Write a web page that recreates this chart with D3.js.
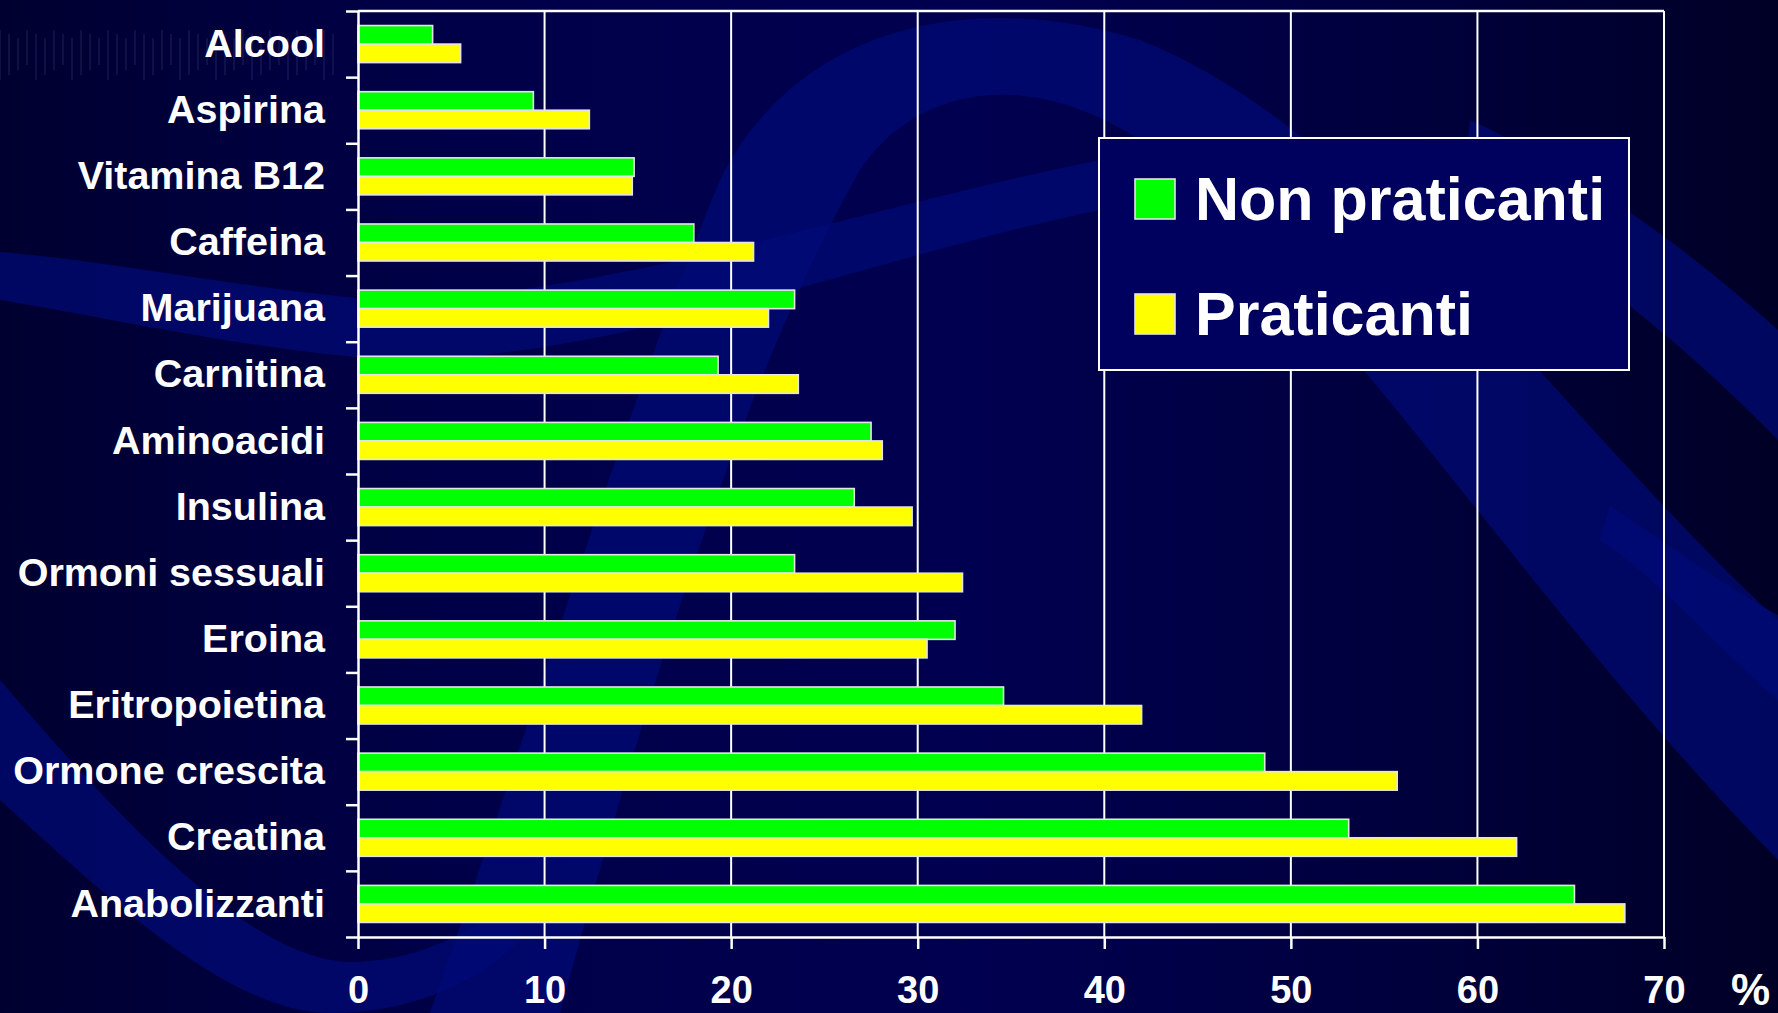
<!DOCTYPE html>
<html>
<head>
<meta charset="utf-8">
<script src="https://cdn.jsdelivr.net/npm/d3@7"></script>
<style>
  html, body { margin: 0; padding: 0; background: #000040; overflow: hidden; }
  svg { display: block; }
  text { font-family: "Liberation Sans", Arial, sans-serif; font-weight: bold; fill: #ffffff; }
</style>
</head>
<body>
<svg id="chart" width="1778" height="1013"></svg>
<script>
// ---- data ----
const categories = ["Alcool", "Aspirina", "Vitamina B12", "Caffeina", "Marijuana", "Carnitina",
  "Aminoacidi", "Insulina", "Ormoni sessuali", "Eroina", "Eritropoietina",
  "Ormone crescita", "Creatina", "Anabolizzanti"];
const nonPraticanti = [4.0, 9.4, 14.8, 18.0, 23.4, 19.3, 27.5, 26.6, 23.4, 32.0, 34.6, 48.6, 53.1, 65.2];
const praticanti   = [5.5, 12.4, 14.7, 21.2, 22.0, 23.6, 28.1, 29.7, 32.4, 30.5, 42.0, 55.7, 62.1, 67.9];
const seriesNames = ["Non praticanti", "Praticanti"];
const seriesColors = ["#00ff00", "#ffff00"];
const xTicks = [0, 10, 20, 30, 40, 50, 60, 70];
const unitLabel = "%";

(function () {
// ---- layout ----
const W = 1778, H = 1013;
const mLeft = 358, mRight = 1664, mTop = 11, mBottom = 937;
const svg = d3.select("#chart");

// background
const defs = svg.append("defs");
const bg = defs.append("linearGradient").attr("id", "bg").attr("x1", 0).attr("x2", 1).attr("y1", 0).attr("y2", 0);
[[0, "#000030"], [0.25, "#000048"], [0.55, "#000050"], [0.8, "#00003c"], [1, "#000026"]]
  .forEach(([o, c]) => bg.append("stop").attr("offset", o).attr("stop-color", c));
svg.append("rect").attr("width", W).attr("height", H).attr("fill", "url(#bg)");

const swooshColor = "#000a78";
const swooshes = [
  "M430,1013 C520,760 620,420 720,180 C800,20 980,-10 1140,40 C1370,130 1560,420 1778,620 L1778,860 C1560,640 1380,360 1180,170 C1050,60 920,80 860,170 C740,380 640,720 560,1013 Z",
  "M0,252 C120,262 250,290 380,300 C600,300 850,210 1100,160 L1100,210 C860,260 620,360 390,360 C250,350 120,320 0,300 Z",
  "M0,680 C120,820 250,960 350,962 C420,962 470,930 520,900 L520,940 C470,990 400,1013 330,1013 C230,1013 110,900 0,800 Z",
  "M1470,120 C1580,170 1690,250 1778,330 L1778,440 C1680,340 1570,250 1460,200 Z",
  "M1610,506 C1670,545 1730,590 1778,615 L1778,700 C1720,650 1660,580 1600,540 Z"
];
svg.append("g").selectAll("path").data(swooshes).join("path")
  .attr("d", d => d).attr("fill", swooshColor).attr("opacity", 0.7);

const texG = svg.append("g").attr("opacity", 0.25);
d3.range(0, 340, 9).forEach((xx, i) => {
  texG.append("line").attr("x1", xx).attr("x2", xx)
    .attr("y1", 30 + (i % 3) * 4).attr("y2", 80 - (i % 4) * 5)
    .attr("stroke", "#8080c0").attr("stroke-width", 1);
});

// ---- scales ----
const x = d3.scaleLinear().domain([0, 70]).range([mLeft, mRight]);
const y = d3.scaleBand().domain(categories).range([mTop, mBottom]).paddingInner(0.44).paddingOuter(0.22);
const ySub = d3.scaleBand().domain(seriesNames).range([0, y.bandwidth()]);
const yBound = d3.scaleLinear().domain([0, categories.length]).range([mTop, mBottom]);

svg.append("g").selectAll("line").data(xTicks.filter(d => d > 0)).join("line")
  .attr("x1", d => x(d)).attr("x2", d => x(d)).attr("y1", mTop).attr("y2", mBottom)
  .attr("stroke", "#ffffff").attr("stroke-width", 2);
svg.append("line").attr("x1", x(0)).attr("x2", x(70)).attr("y1", mTop).attr("y2", mTop)
  .attr("stroke", "#ffffff").attr("stroke-width", 2.5);

// bars
const rows = categories.map((c, i) => ({ cat: c, vals: [nonPraticanti[i], praticanti[i]] }));
const gRow = svg.append("g").selectAll("g").data(rows).join("g")
  .attr("transform", d => `translate(0,${y(d.cat)})`);
gRow.selectAll("rect").data(d => d.vals.map((v, j) => ({ v, s: seriesNames[j], c: seriesColors[j] })))
  .join("rect")
  .attr("x", x(0)).attr("y", d => ySub(d.s))
  .attr("width", d => x(d.v) - x(0)).attr("height", ySub.bandwidth())
  .attr("fill", d => d.c).attr("stroke", "#e4e4e4").attr("stroke-width", 1.6);

const yTickAxis = svg.append("g").attr("transform", `translate(${mLeft},0)`)
  .call(d3.axisLeft(yBound).ticks(categories.length).tickSize(12).tickSizeOuter(0).tickFormat(""));
yTickAxis.selectAll("line").attr("stroke", "#ffffff").attr("stroke-width", 2.5);
yTickAxis.select(".domain").attr("stroke", "#ffffff").attr("stroke-width", 2.5);

const yLab = svg.append("g").attr("transform", `translate(${mLeft},0)`)
  .call(d3.axisLeft(y).tickSize(0).tickPadding(33));
yLab.select(".domain").remove();
yLab.selectAll("text").attr("font-size", 39.5).attr("fill", "#ffffff")
  .style("font-family", '"Liberation Sans", Arial, sans-serif').style("font-weight", "bold");

const xAx = svg.append("g").attr("transform", `translate(0,${mBottom})`)
  .call(d3.axisBottom(x).tickValues(xTicks).tickSize(12).tickSizeOuter(0));
xAx.selectAll("line").attr("stroke", "#ffffff").attr("stroke-width", 2.5);
xAx.select(".domain").attr("stroke", "#ffffff").attr("stroke-width", 2.5);
xAx.selectAll("text").attr("y", 66).attr("dy", 0).attr("font-size", 38).attr("fill", "#ffffff")
  .style("font-family", '"Liberation Sans", Arial, sans-serif').style("font-weight", "bold");

svg.append("text").attr("x", 1731).attr("y", 1005).attr("font-size", 44).text(unitLabel);

// legend
const lg = svg.append("g");
lg.append("rect").attr("x", 1099).attr("y", 138).attr("width", 530).attr("height", 232)
  .attr("fill", "#00005e").attr("stroke", "#ffffff").attr("stroke-width", 2);
const items = lg.selectAll("g.item").data(seriesNames).join("g").attr("class", "item")
  .attr("transform", (d, i) => `translate(1135,${179 + i * 115})`);
items.append("rect").attr("width", 40).attr("height", 40)
  .attr("fill", (d, i) => seriesColors[i]).attr("stroke", "#e4e4e4").attr("stroke-width", 1.6);
items.append("text").attr("x", 60).attr("y", 41).attr("font-size", 61).text(d => d);
})();
</script>
</body>
</html>
